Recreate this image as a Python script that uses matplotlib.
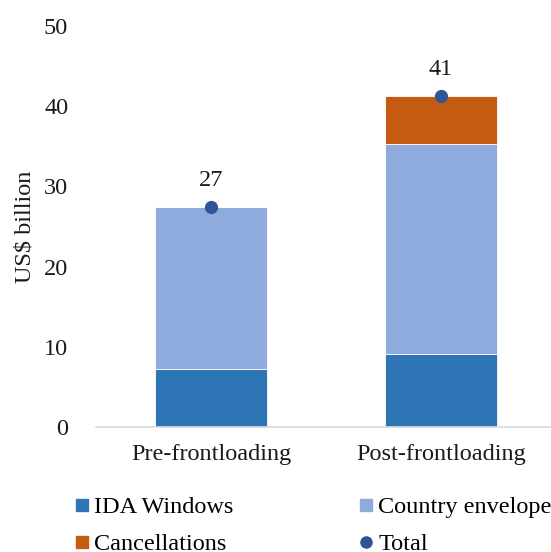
"""Stacked bar chart of IDA resources before and after frontloading."""
import matplotlib
matplotlib.use("Agg")
import matplotlib.pyplot as plt
from matplotlib.lines import Line2D
import numpy as np

plt.rcParams["font.family"] = ["Liberation Serif", "DejaVu Serif"]
FS = 17.5

categories = ["Pre-frontloading", "Post-frontloading"]
ida_windows = [7.2, 9.1]
country_envelope = [20.2, 26.2]
cancellations = [0.0, 6.0]
totals = [27.4, 41.3]

C_IDA = "#2E75B6"
C_COUNTRY = "#8FAADC"
C_CANCEL = "#C55A11"
C_TOTAL = "#2F5597"

fig = plt.figure(figsize=(5.51, 5.52), dpi=100)
ax = fig.add_axes([96 / 551, 1 - 427 / 552, 460 / 551, 401 / 552])

x = np.arange(len(categories))
width = 0.487
bottom = np.zeros(len(categories))
for vals, color in [(ida_windows, C_IDA), (country_envelope, C_COUNTRY), (cancellations, C_CANCEL)]:
    vals = np.asarray(vals)
    ax.bar(x, vals, width, bottom=bottom, color=color, edgecolor="white", linewidth=0.6, zorder=2)
    bottom += vals

ax.plot(x, totals, "o", color=C_TOTAL, markersize=8.5, zorder=3)
for xi, t in zip(x, totals):
    ax.annotate(f"{t:.0f}", (xi, t), xytext=(0, 19), textcoords="offset points",
                ha="center", va="center", fontsize=FS, color="#1a1a1a")

ax.set_xlim(-0.5, 1.5)
ax.set_ylim(0, 50)
ax.set_yticks(range(0, 51, 10))
ax.set_xticks(x)
ax.set_xticklabels(categories)
ax.tick_params(axis="both", length=0, labelsize=FS, colors="#1a1a1a")
ax.tick_params(axis="y", pad=20)
ax.tick_params(axis="x", pad=12)
for side in ["top", "right", "left"]:
    ax.spines[side].set_visible(False)
ax.spines["bottom"].set_color("#d9d9d9")
ax.spines["bottom"].set_linewidth(1.2)
ax.set_ylabel("US$ billion", fontsize=FS, color="#1a1a1a", labelpad=6)

handles = [
    Line2D([], [], marker="s", linestyle="none", color=C_IDA, markersize=8),
    Line2D([], [], marker="s", linestyle="none", color=C_CANCEL, markersize=8),
    Line2D([], [], marker="s", linestyle="none", color=C_COUNTRY, markersize=8),
    Line2D([], [], marker="o", linestyle="none", color=C_TOTAL, markersize=8),
]
labels = ["IDA Windows", "Cancellations", "Country envelope", "Total"]
fig.legend(handles, labels, ncol=2, loc="upper left", bbox_to_anchor=(76 / 551, 1 - 496 / 552),
           frameon=False, fontsize=FS, handlelength=0.5, handletextpad=0.25,
           columnspacing=5.2, labelspacing=0.62, borderaxespad=0, borderpad=0)

fig.savefig("out.png", dpi=100)
